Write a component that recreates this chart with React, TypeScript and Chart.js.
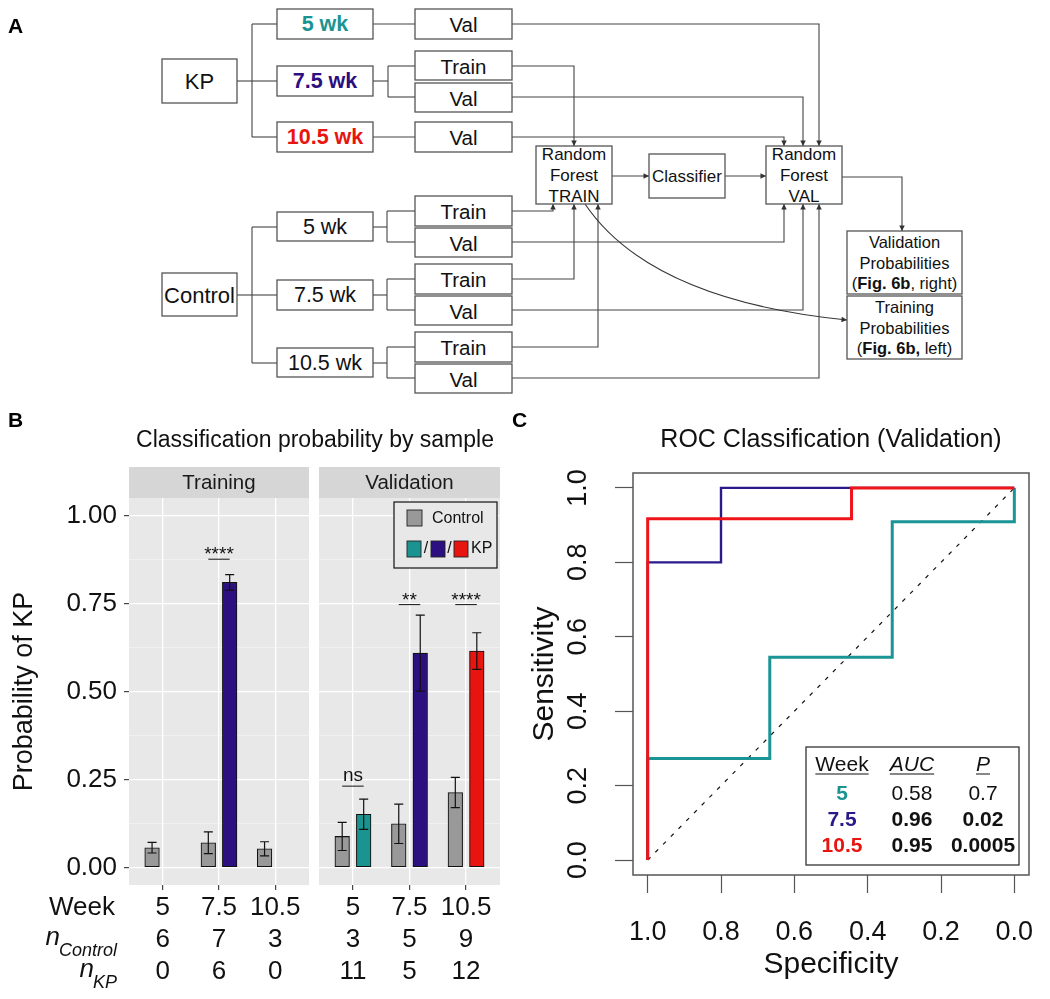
import React, { useEffect, useRef } from 'react';
import { Chart, registerables } from 'chart.js';

Chart.register(...registerables);

const FONT = '"Liberation Sans", Arial, Helvetica, sans-serif';
Chart.defaults.font.family = FONT;
Chart.defaults.color = '#111';

const TEAL = '#1b9491';
const PURPLE = '#2c0f80';
const RED = '#e8140f';
const NAVY_ROC = '#2a1a8a';
const RED_ROC = '#f0141a';
const TEAL_ROC = '#1a9494';
const GREY_BAR = '#999999';
const PANEL_BG = '#e8e8e8';
const STRIP_BG = '#d6d6d6';

// ---------------- Panel B data ----------------
const weekLabels = ['5', '7.5', '10.5'];
const trainingNControl = ['6', '7', '3'];
const trainingNKP = ['0', '6', '0'];
const validationNControl = ['3', '5', '9'];
const validationNKP = ['11', '5', '12'];

const trainingControl = [0.056, 0.07, 0.053];
const trainingControlErr = [0.015, 0.031, 0.02];
const trainingKP = [null, 0.81, null];
const trainingKPErr = [null, 0.022, null];

const validationControl = [0.088, 0.124, 0.213];
const validationControlErr = [0.04, 0.056, 0.043];
const validationKP = [0.151, 0.609, 0.615];
const validationKPErr = [0.043, 0.108, 0.052];

const kpColors = [TEAL, PURPLE, RED];

const trainingSig = ['', '****', ''];
const trainingSigLineY = [0, 0.876, 0];
const trainingSigTextY = [0, 0.874, 0];
const validationSig = ['ns', '**', '****'];
const validationSigLineY = [0.231, 0.747, 0.747];
const validationSigTextY = [0.247, 0.743, 0.743];

const probMajorTicks = [0, 0.25, 0.5, 0.75, 1];
const probMinorTicks = [0.125, 0.375, 0.625, 0.875];

// ---------------- Panel C data ----------------
const rocSpec5 = [1, 1, 0.667, 0.667, 0.333, 0.333, 0, 0];
const rocSens5 = [0, 0.273, 0.273, 0.545, 0.545, 0.909, 0.909, 1];
const rocSpec75 = [1, 1, 0.8, 0.8, 0];
const rocSens75 = [0, 0.8, 0.8, 1, 1];
const rocSpec105 = [1, 1, 0.444, 0.444, 0];
const rocSens105 = [0, 0.917, 0.917, 1, 1];
const rocTicks = [0, 0.2, 0.4, 0.6, 0.8, 1];

const tableWeeks = ['5', '7.5', '10.5'];
const tableAUC = ['0.58', '0.96', '0.95'];
const tableP = ['0.7', '0.02', '0.0005'];
const tableBold = [false, true, true];
const tableColors = [TEAL, '#2a1a88', RED];

// ---------------- helpers ----------------
const DODGE = 0.19;
const CAP_W = 0.08;
const X_TICK_LEN = 5;
const X_TICK_PAD = 2;
const X_LINE_H = 32;

const isMajor = (v: number) => Math.abs(v * 4 - Math.round(v * 4)) < 1e-6;

function makeFacet(spec: any) {
  const kpPoints = spec.kp
    .map((v: number | null, i: number) => (v == null ? null : { x: i + 1 + DODGE, y: v, c: kpColors[i] }))
    .filter((d: any) => d);

  const plugin = {
    id: 'facetDecor',
    beforeDraw(chart: any) {
      const { ctx, chartArea: a } = chart;
      ctx.save();
      ctx.fillStyle = PANEL_BG;
      ctx.fillRect(a.left, a.top, a.right - a.left, a.bottom - a.top);
      ctx.fillStyle = STRIP_BG;
      ctx.fillRect(a.left, a.top - 31, a.right - a.left, 31);
      ctx.fillStyle = '#1a1a1a';
      ctx.font = `20.5px ${FONT}`;
      ctx.textAlign = 'center';
      ctx.textBaseline = 'middle';
      ctx.fillText(spec.strip, (a.left + a.right) / 2, a.top - 15);
      ctx.restore();
    },
    afterDatasetsDraw(chart: any) {
      const { ctx } = chart;
      const xs = chart.scales.x;
      const ys = chart.scales.y;
      ctx.save();
      ctx.strokeStyle = '#111';
      ctx.lineWidth = 1.2;
      const drawErr = (pos: number, m: number, e: number) => {
        const x = xs.getPixelForValue(pos);
        const cw = xs.getPixelForValue(pos + CAP_W) - x;
        const y1 = ys.getPixelForValue(m - e);
        const y2 = ys.getPixelForValue(m + e);
        ctx.beginPath();
        ctx.moveTo(x, y1);
        ctx.lineTo(x, y2);
        ctx.moveTo(x - cw, y1);
        ctx.lineTo(x + cw, y1);
        ctx.moveTo(x - cw, y2);
        ctx.lineTo(x + cw, y2);
        ctx.stroke();
      };
      spec.control.forEach((m: number, i: number) => drawErr(i + 1 - DODGE, m, spec.controlErr[i]));
      spec.kp.forEach((m: number | null, i: number) => {
        if (m != null) drawErr(i + 1 + DODGE, m, spec.kpErr[i]);
      });
      ctx.lineWidth = 1;
      ctx.fillStyle = '#111';
      ctx.font = `19px ${FONT}`;
      ctx.textAlign = 'center';
      ctx.textBaseline = 'alphabetic';
      spec.sig.forEach((s: string, i: number) => {
        if (!s) return;
        const x1 = xs.getPixelForValue(i + 1 - DODGE);
        const x2 = xs.getPixelForValue(i + 1 + DODGE);
        const y = ys.getPixelForValue(spec.sigLineY[i]);
        ctx.beginPath();
        ctx.moveTo(x1, y);
        ctx.lineTo(x2, y);
        ctx.stroke();
        ctx.fillText(s, (x1 + x2) / 2, ys.getPixelForValue(spec.sigTextY[i]));
      });
      ctx.restore();
    },
    afterDraw(chart: any) {
      const { ctx, chartArea: a } = chart;
      ctx.save();
      if (spec.legend) {
        const bw = 103, bh = 66;
        const bx = a.right - 3 - bw;
        const by = a.top + 4;
        ctx.fillStyle = PANEL_BG;
        ctx.fillRect(bx, by, bw, bh);
        ctx.strokeStyle = '#111';
        ctx.lineWidth = 1.2;
        ctx.strokeRect(bx, by, bw, bh);
        const key = (x: number, y: number, w: number, h: number, c: string) => {
          ctx.fillStyle = c;
          ctx.fillRect(x, y, w, h);
          ctx.strokeStyle = '#222';
          ctx.lineWidth = 0.9;
          ctx.strokeRect(x, y, w, h);
        };
        key(bx + 13, by + 8, 15, 16, GREY_BAR);
        key(bx + 13, by + 39, 14, 16, TEAL);
        key(bx + 37, by + 39, 14, 16, PURPLE);
        key(bx + 60, by + 39, 14, 16, RED);
        ctx.fillStyle = '#111';
        ctx.font = `16px ${FONT}`;
        ctx.textAlign = 'left';
        ctx.textBaseline = 'middle';
        ctx.fillText('Control', bx + 38, by + 17);
        ctx.textAlign = 'center';
        ctx.fillText('/', bx + 32, by + 47);
        ctx.fillText('/', bx + 55.5, by + 47);
        ctx.textAlign = 'left';
        ctx.fillText('KP', bx + 77, by + 47);
      }
      if (spec.yAxis) {
        const xs = chart.scales.x;
        const c1 = xs.top + X_TICK_LEN + X_TICK_PAD + X_LINE_H / 2;
        ctx.fillStyle = '#111';
        ctx.font = `26px ${FONT}`;
        ctx.textAlign = 'right';
        ctx.textBaseline = 'middle';
        ctx.fillText('Week', 115, c1);
        const sub = (label: string, c: number) => {
          ctx.font = `italic 18px ${FONT}`;
          ctx.textAlign = 'left';
          ctx.textBaseline = 'alphabetic';
          const w = ctx.measureText(label).width;
          const sx = 117 - w;
          ctx.fillText(label, sx, c + 16);
          ctx.font = `italic 26px ${FONT}`;
          ctx.textAlign = 'right';
          ctx.fillText('n', sx + 1, c + 5);
        };
        sub('Control', c1 + X_LINE_H);
        sub('KP', c1 + 2 * X_LINE_H);
      }
      ctx.restore();
    },
  };

  return {
    type: 'bar',
    data: {
      datasets: [
        {
          label: 'Control',
          data: spec.control.map((v: number, i: number) => ({ x: i + 1 - DODGE, y: v })),
          backgroundColor: GREY_BAR,
          borderColor: '#111',
          borderWidth: 1.1,
          borderSkipped: false,
          barThickness: 14.6,
          grouped: false,
        },
        {
          label: 'KP',
          data: kpPoints.map((d: any) => ({ x: d.x, y: d.y })),
          backgroundColor: kpPoints.map((d: any) => d.c),
          borderColor: '#111',
          borderWidth: 1.1,
          borderSkipped: false,
          barThickness: 14.6,
          grouped: false,
        },
      ],
    },
    options: {
      responsive: false,
      animation: false,
      events: [],
      layout: { padding: { top: 78, right: spec.padRight, left: spec.padLeft, bottom: 0 } },
      plugins: { legend: { display: false }, tooltip: { enabled: false }, title: { display: false } },
      scales: {
        x: {
          type: 'linear',
          min: 0.4,
          max: 3.6,
          offset: false,
          afterBuildTicks: (s: any) => {
            s.ticks = [1, 2, 3].map((v) => ({ value: v }));
          },
          afterFit: (s: any) => {
            s.height = 114;
          },
          grid: {
            offset: false,
            color: '#ffffff',
            lineWidth: 1.3,
            drawTicks: true,
            tickLength: X_TICK_LEN,
            tickColor: '#333',
            tickWidth: 1.1,
          },
          border: { display: false },
          ticks: {
            autoSkip: false,
            maxRotation: 0,
            minRotation: 0,
            padding: X_TICK_PAD,
            color: '#111',
            font: { size: 26, lineHeight: X_LINE_H / 26 },
            callback: (v: any) => {
              const i = Math.round(Number(v)) - 1;
              return [weekLabels[i], spec.nControl[i], spec.nKP[i]];
            },
          },
        },
        y: {
          type: 'linear',
          min: -0.05,
          max: 1.05,
          afterBuildTicks: (s: any) => {
            s.ticks = [...probMajorTicks, ...probMinorTicks].sort((a, b) => a - b).map((v) => ({ value: v }));
          },
          afterFit: (s: any) => {
            s.width = spec.yAxis ? 129 : 0;
          },
          grid: {
            color: (c: any) => (c.tick && !isMajor(c.tick.value) ? 'rgba(255,255,255,0.7)' : '#ffffff'),
            lineWidth: (c: any) => (c.tick && !isMajor(c.tick.value) ? 0.6 : 1.3),
            drawTicks: !!spec.yAxis,
            tickLength: 5,
            tickColor: (c: any) => (c.tick && !isMajor(c.tick.value) ? 'rgba(0,0,0,0)' : '#333'),
            tickWidth: 1.1,
          },
          border: { display: false },
          ticks: {
            display: !!spec.yAxis,
            padding: 7,
            color: '#111',
            font: { size: 26 },
            callback: (v: any) => (isMajor(Number(v)) ? Number(v).toFixed(2) : ''),
          },
          title: {
            display: !!spec.yAxis,
            text: 'Probability of KP',
            color: '#111',
            font: { size: 27 },
            padding: { top: 8, bottom: 0 },
          },
        },
      },
    },
    plugins: [plugin],
  };
}

function makeRoc() {
  const plugin = {
    id: 'rocDecor',
    afterDraw(chart: any) {
      const { ctx, chartArea: a } = chart;
      const ys = chart.scales.y;
      ctx.save();
      // rotated y tick labels (R style)
      ctx.fillStyle = '#111';
      ctx.font = `27px ${FONT}`;
      ctx.textAlign = 'center';
      ctx.textBaseline = 'middle';
      rocTicks.forEach((v) => {
        const y = ys.getPixelForValue(v);
        ctx.save();
        ctx.translate(59, y);
        ctx.rotate(-Math.PI / 2);
        ctx.fillText(v.toFixed(1), 0, 0);
        ctx.restore();
      });
      // frame
      ctx.strokeStyle = '#555';
      ctx.lineWidth = 1.5;
      ctx.strokeRect(a.left, a.top, a.right - a.left, a.bottom - a.top);
      // table legend
      const bw = 213, bh = 118;
      const bx = a.right - 10 - bw;
      const by = a.bottom - 10 - bh;
      ctx.fillStyle = '#ffffff';
      ctx.fillRect(bx, by, bw, bh);
      ctx.strokeStyle = '#333';
      ctx.lineWidth = 1.3;
      ctx.strokeRect(bx, by, bw, bh);
      const cols = [bx + 36, bx + 106, bx + 177];
      const rows = [by + 18, by + 47, by + 73, by + 99.5];
      const heads = ['Week', 'AUC', 'P'];
      ctx.textAlign = 'center';
      ctx.textBaseline = 'middle';
      heads.forEach((h, j) => {
        ctx.font = `${j === 0 ? '' : 'italic '}21px ${FONT}`;
        ctx.fillStyle = '#111';
        ctx.fillText(h, cols[j], rows[0]);
        const w = ctx.measureText(h).width;
        ctx.strokeStyle = '#111';
        ctx.lineWidth = 1;
        ctx.beginPath();
        ctx.moveTo(cols[j] - w / 2, rows[0] + 9);
        ctx.lineTo(cols[j] + w / 2, rows[0] + 9);
        ctx.stroke();
      });
      tableWeeks.forEach((wk, i) => {
        const y = rows[i + 1];
        ctx.font = `bold 21px ${FONT}`;
        ctx.fillStyle = tableColors[i];
        ctx.fillText(wk, cols[0], y);
        ctx.font = `${tableBold[i] ? 'bold ' : ''}21px ${FONT}`;
        ctx.fillStyle = '#111';
        ctx.fillText(tableAUC[i], cols[1], y);
        ctx.fillText(tableP[i], cols[2], y);
      });
      ctx.restore();
    },
  };

  const line = (xs: number[], ys: number[]) => xs.map((x, i) => ({ x, y: ys[i] }));
  const common = { showLine: true, pointRadius: 0, fill: false, borderJoinStyle: 'miter', borderCapStyle: 'butt' };

  return {
    type: 'scatter',
    data: {
      datasets: [
        { label: '10.5', data: line(rocSpec105, rocSens105), borderColor: RED_ROC, borderWidth: 3, ...common },
        { label: '7.5', data: line(rocSpec75, rocSens75), borderColor: NAVY_ROC, borderWidth: 2.4, ...common },
        { label: '5', data: line(rocSpec5, rocSens5), borderColor: TEAL_ROC, borderWidth: 3, ...common },
        {
          label: 'chance',
          data: line([1, 0], [0, 1]),
          borderColor: '#111',
          borderWidth: 1.2,
          borderDash: [4, 7],
          ...common,
        },
      ],
    },
    options: {
      responsive: false,
      animation: false,
      events: [],
      layout: { padding: { top: 53, right: 21, left: 0, bottom: 0 } },
      plugins: { legend: { display: false }, tooltip: { enabled: false }, title: { display: false } },
      scales: {
        x: {
          type: 'linear',
          reverse: true,
          min: -0.04,
          max: 1.04,
          afterBuildTicks: (s: any) => {
            s.ticks = rocTicks.map((v) => ({ value: v }));
          },
          afterFit: (s: any) => {
            s.height = 124;
          },
          grid: { drawOnChartArea: false, drawTicks: true, tickLength: 18, tickColor: '#555', tickWidth: 1.2 },
          border: { display: false },
          ticks: {
            padding: 23,
            color: '#111',
            autoSkip: false,
            maxRotation: 0,
            minRotation: 0,
            font: { size: 27 },
            callback: (v: any) => Number(v).toFixed(1),
          },
          title: { display: true, text: 'Specificity', color: '#111', font: { size: 30 }, padding: { top: 0, bottom: 16 } },
        },
        y: {
          type: 'linear',
          min: -0.04,
          max: 1.04,
          afterBuildTicks: (s: any) => {
            s.ticks = rocTicks.map((v) => ({ value: v }));
          },
          afterFit: (s: any) => {
            s.width = 113;
          },
          grid: { drawOnChartArea: false, drawTicks: true, tickLength: 18, tickColor: '#555', tickWidth: 1.2 },
          border: { display: false },
          ticks: { display: false },
          title: { display: true, text: 'Sensitivity', color: '#111', font: { size: 30 }, padding: { top: 7, bottom: 0 } },
        },
      },
    },
    plugins: [plugin],
  };
}

// ---------------- Panel A flowchart ----------------
type Seg = { t: string; b?: boolean };
type Box = { x: number; y: number; w: number; h: number; lines: Seg[][]; size: number; bold?: boolean; color?: string };

const s = (t: string): Seg[] => [{ t }];

const flowBoxes: Box[] = [
  { x: 162, y: 59, w: 75, h: 44, lines: [s('KP')], size: 22 },
  { x: 277, y: 9, w: 96, h: 30, lines: [s('5 wk')], size: 21.5, bold: true, color: TEAL },
  { x: 277, y: 66, w: 96, h: 30, lines: [s('7.5 wk')], size: 21.5, bold: true, color: PURPLE },
  { x: 277, y: 122, w: 96, h: 30, lines: [s('10.5 wk')], size: 21.5, bold: true, color: RED },
  { x: 415, y: 9, w: 97, h: 30, lines: [s('Val')], size: 20.5 },
  { x: 415, y: 51, w: 97, h: 29, lines: [s('Train')], size: 20.5 },
  { x: 415, y: 83, w: 97, h: 29, lines: [s('Val')], size: 20.5 },
  { x: 415, y: 122, w: 97, h: 30, lines: [s('Val')], size: 20.5 },
  { x: 162, y: 273, w: 75, h: 43, lines: [s('Control')], size: 22 },
  { x: 277, y: 212, w: 96, h: 29, lines: [s('5 wk')], size: 21.5 },
  { x: 277, y: 280, w: 96, h: 30, lines: [s('7.5 wk')], size: 21.5 },
  { x: 277, y: 348, w: 96, h: 29, lines: [s('10.5 wk')], size: 21.5 },
  { x: 415, y: 196, w: 97, h: 30, lines: [s('Train')], size: 20.5 },
  { x: 415, y: 228, w: 97, h: 29, lines: [s('Val')], size: 20.5 },
  { x: 415, y: 264, w: 97, h: 30, lines: [s('Train')], size: 20.5 },
  { x: 415, y: 296, w: 97, h: 29, lines: [s('Val')], size: 20.5 },
  { x: 415, y: 332, w: 97, h: 30, lines: [s('Train')], size: 20.5 },
  { x: 415, y: 364, w: 97, h: 29, lines: [s('Val')], size: 20.5 },
  { x: 536, y: 146, w: 76, h: 58, lines: [s('Random'), s('Forest'), s('TRAIN')], size: 17 },
  { x: 649, y: 154, w: 76, h: 44, lines: [s('Classifier')], size: 17 },
  { x: 766, y: 146, w: 76, h: 58, lines: [s('Random'), s('Forest'), s('VAL')], size: 17 },
  {
    x: 847, y: 231, w: 115, h: 63, size: 16.5,
    lines: [s('Validation'), s('Probabilities'), [{ t: '(' }, { t: 'Fig. 6b', b: true }, { t: ', right)' }]],
  },
  {
    x: 847, y: 296, w: 115, h: 63, size: 16.5,
    lines: [s('Training'), s('Probabilities'), [{ t: '(' }, { t: 'Fig. 6b,', b: true }, { t: ' left)' }]],
  },
];

const flowLines: number[][][] = [
  [[237, 81], [252, 81]], [[252, 24], [252, 137]], [[252, 24], [277, 24]], [[252, 81], [277, 81]], [[252, 137], [277, 137]],
  [[373, 24], [415, 24]], [[373, 81], [388, 81]], [[388, 66], [388, 97]], [[388, 66], [415, 66]], [[388, 97], [415, 97]],
  [[373, 137], [415, 137]],
  [[237, 295], [252, 295]], [[252, 227], [252, 363]], [[252, 227], [277, 227]], [[252, 295], [277, 295]], [[252, 363], [277, 363]],
  [[373, 227], [387, 227]], [[387, 211], [387, 242]], [[387, 211], [415, 211]], [[387, 242], [415, 242]],
  [[373, 295], [387, 295]], [[387, 279], [387, 310]], [[387, 279], [415, 279]], [[387, 310], [415, 310]],
  [[373, 363], [387, 363]], [[387, 347], [387, 378]], [[387, 347], [415, 347]], [[387, 378], [415, 378]],
];

const flowArrows: number[][][] = [
  [[512, 24], [819, 24], [819, 146]],
  [[512, 66], [574, 66], [574, 146]],
  [[512, 97], [803, 97], [803, 146]],
  [[512, 137], [784, 137], [784, 146]],
  [[612, 176], [649, 176]],
  [[725, 176], [766, 176]],
  [[842, 177], [902, 177], [902, 231]],
  [[512, 211], [553, 211], [553, 204]],
  [[512, 279], [574, 279], [574, 204]],
  [[512, 347], [598, 347], [598, 204]],
  [[512, 242], [784, 242], [784, 204]],
  [[512, 310], [803, 310], [803, 204]],
  [[512, 378], [819, 378], [819, 204]],
];

function Flowchart() {
  const pts = (p: number[][]) => p.map((q) => q.join(',')).join(' ');
  return (
    <svg width={1050} height={410} style={{ position: 'absolute', left: 0, top: 0 }} fontFamily={FONT}>
      <defs>
        <marker id="arrowHead" viewBox="0 0 10 10" refX="10" refY="5" markerWidth="6" markerHeight="5.5" markerUnits="userSpaceOnUse" orient="auto">
          <path d="M0,0 L10,5 L0,10 z" fill="#333" />
        </marker>
      </defs>
      {flowLines.map((l, i) => (
        <polyline key={'l' + i} points={pts(l)} fill="none" stroke="#444" strokeWidth={1.1} />
      ))}
      {flowArrows.map((l, i) => (
        <polyline key={'a' + i} points={pts(l)} fill="none" stroke="#444" strokeWidth={1.1} markerEnd="url(#arrowHead)" />
      ))}
      <path d="M585,204 Q650,300 847,320" fill="none" stroke="#333" strokeWidth={1.1} markerEnd="url(#arrowHead)" />
      {flowBoxes.map((b, i) => {
        const cy = b.y + b.h / 2;
        const n = b.lines.length;
        const lh = b.size * 1.24;
        return (
          <g key={'b' + i}>
            <rect x={b.x} y={b.y} width={b.w} height={b.h} fill="#fff" stroke="#555" strokeWidth={1.3} />
            {b.lines.map((segs, k) => (
              <text
                key={k}
                x={b.x + b.w / 2}
                y={cy + (k - (n - 1) / 2) * lh}
                textAnchor="middle"
                dominantBaseline="central"
                fontSize={b.size}
                fontWeight={b.bold ? 'bold' : 'normal'}
                fill={b.color || '#111'}
              >
                {segs.map((sg, j) => (
                  <tspan key={j} fontWeight={sg.b || b.bold ? 'bold' : 'normal'}>
                    {sg.t}
                  </tspan>
                ))}
              </text>
            ))}
          </g>
        );
      })}
    </svg>
  );
}

export default function App() {
  const trainRef = useRef<HTMLCanvasElement>(null);
  const valRef = useRef<HTMLCanvasElement>(null);
  const rocRef = useRef<HTMLCanvasElement>(null);

  useEffect(() => {
    const charts: Chart[] = [];
    charts.push(
      new Chart(
        trainRef.current as HTMLCanvasElement,
        makeFacet({
          strip: 'Training',
          control: trainingControl,
          controlErr: trainingControlErr,
          kp: trainingKP,
          kpErr: trainingKPErr,
          nControl: trainingNControl,
          nKP: trainingNKP,
          sig: trainingSig,
          sigLineY: trainingSigLineY,
          sigTextY: trainingSigTextY,
          yAxis: true,
          legend: false,
          padLeft: 0,
          padRight: 3,
        }) as any
      )
    );
    charts.push(
      new Chart(
        valRef.current as HTMLCanvasElement,
        makeFacet({
          strip: 'Validation',
          control: validationControl,
          controlErr: validationControlErr,
          kp: validationKP,
          kpErr: validationKPErr,
          nControl: validationNControl,
          nKP: validationNKP,
          sig: validationSig,
          sigLineY: validationSigLineY,
          sigTextY: validationSigTextY,
          yAxis: false,
          legend: true,
          padLeft: 7,
          padRight: 20,
        }) as any
      )
    );
    charts.push(new Chart(rocRef.current as HTMLCanvasElement, makeRoc() as any));
    return () => charts.forEach((c) => c.destroy());
  }, []);

  return (
    <div
      style={{
        position: 'absolute',
        left: 0,
        top: 0,
        width: 1050,
        height: 999,
        background: '#ffffff',
        overflow: 'hidden',
        fontFamily: FONT,
      }}
    >
      <Flowchart />
      <canvas ref={trainRef} width={312} height={579} style={{ position: 'absolute', left: 0, top: 420 }} />
      <canvas ref={valRef} width={208} height={579} style={{ position: 'absolute', left: 312, top: 420 }} />
      <canvas ref={rocRef} width={530} height={579} style={{ position: 'absolute', left: 520, top: 420 }} />
      <svg width={1050} height={999} style={{ position: 'absolute', left: 0, top: 0, pointerEvents: 'none' }} fontFamily={FONT}>
        <text x={8} y={33} fontSize={21} fontWeight="bold" fill="#000">A</text>
        <text x={8} y={427} fontSize={21} fontWeight="bold" fill="#000">B</text>
        <text x={512} y={427} fontSize={21} fontWeight="bold" fill="#000">C</text>
        <text x={315} y={447} fontSize={23} textAnchor="middle" fill="#111">Classification probability by sample</text>
        <text x={831} y={447} fontSize={25} textAnchor="middle" fill="#111">ROC Classification (Validation)</text>
      </svg>
    </div>
  );
}
